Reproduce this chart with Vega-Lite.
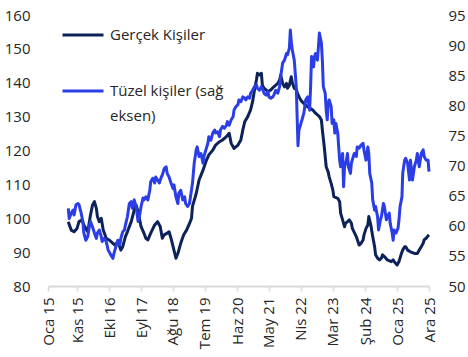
{
"$schema": "https://vega.github.io/schema/vega-lite/v6.json",
"width": 381,
"height": 271,
"padding": {"left": 4, "top": 8, "right": 5, "bottom": 5},
"config": {
  "view": {"stroke": null},
  "font": "Open Sans",
  "axis": {"labelFont": "Open Sans", "labelFontSize": 15, "labelColor": "#262626", "grid": false, "title": null, "labelFlush": false, "labelOverlap": false, "labelBound": false}
},
"datasets": {
"G": [
{"d":"2015-08-01","v":99.0},{"d":"2015-09-01","v":96.5},{"d":"2015-10-01","v":96.0},{"d":"2015-11-01","v":97.0},{"d":"2015-11-21","v":99.0},{"d":"2015-12-21","v":99.5},{"d":"2016-01-11","v":98.0},{"d":"2016-02-21","v":96.0},{"d":"2016-03-21","v":101.0},{"d":"2016-04-11","v":103.9},{"d":"2016-05-01","v":104.9},{"d":"2016-05-21","v":102.9},{"d":"2016-06-01","v":100.5},{"d":"2016-06-21","v":99.0},{"d":"2016-07-11","v":100.0},{"d":"2016-08-01","v":96.5},{"d":"2016-09-01","v":94.1},{"d":"2016-10-01","v":93.6},{"d":"2016-11-11","v":92.6},{"d":"2016-12-01","v":92.1},{"d":"2017-01-01","v":93.1},{"d":"2017-02-01","v":90.6},{"d":"2017-02-21","v":91.6},{"d":"2017-03-21","v":94.6},{"d":"2017-04-11","v":96.0},{"d":"2017-05-21","v":99.0},{"d":"2017-06-21","v":102.4},{"d":"2017-07-11","v":103.9},{"d":"2017-08-01","v":101.9},{"d":"2017-09-01","v":97.5},{"d":"2017-10-01","v":95.6},{"d":"2017-10-21","v":94.1},{"d":"2017-11-11","v":93.6},{"d":"2017-12-11","v":95.6},{"d":"2018-01-21","v":98.0},{"d":"2018-02-21","v":99.0},{"d":"2018-03-21","v":97.5},{"d":"2018-04-11","v":94.1},{"d":"2018-05-01","v":95.1},{"d":"2018-06-01","v":95.6},{"d":"2018-06-21","v":96.0},{"d":"2018-07-11","v":94.1},{"d":"2018-08-11","v":90.6},{"d":"2018-09-01","v":88.2},{"d":"2018-09-21","v":89.6},{"d":"2018-10-21","v":92.6},{"d":"2018-11-21","v":95.1},{"d":"2018-12-21","v":96.5},{"d":"2019-01-21","v":98.5},{"d":"2019-02-11","v":100.0},{"d":"2019-02-21","v":103.5},{"d":"2019-04-01","v":107.3},{"d":"2019-05-01","v":111.3},{"d":"2019-06-11","v":114.2},{"d":"2019-07-11","v":116.7},{"d":"2019-08-11","v":118.7},{"d":"2019-09-21","v":120.1},{"d":"2019-10-21","v":121.6},{"d":"2019-12-01","v":122.6},{"d":"2020-01-01","v":123.1},{"d":"2020-02-11","v":124.1},{"d":"2020-03-11","v":125.1},{"d":"2020-04-01","v":122.1},{"d":"2020-04-21","v":121.1},{"d":"2020-05-01","v":120.6},{"d":"2020-06-11","v":121.6},{"d":"2020-07-11","v":123.1},{"d":"2020-08-01","v":126.1},{"d":"2020-08-21","v":128.5},{"d":"2020-09-21","v":130.0},{"d":"2020-10-21","v":132.0},{"d":"2020-11-11","v":134.4},{"d":"2020-12-01","v":137.9},{"d":"2020-12-21","v":140.8},{"d":"2021-01-01","v":142.8},{"d":"2021-01-21","v":142.3},{"d":"2021-02-11","v":142.8},{"d":"2021-02-21","v":139.3},{"d":"2021-03-11","v":138.4},{"d":"2021-04-21","v":137.4},{"d":"2021-05-21","v":137.9},{"d":"2021-06-21","v":138.8},{"d":"2021-08-01","v":139.8},{"d":"2021-08-21","v":140.8},{"d":"2021-09-01","v":142.3},{"d":"2021-09-21","v":139.8},{"d":"2021-10-11","v":138.8},{"d":"2021-11-01","v":139.8},{"d":"2021-11-11","v":138.4},{"d":"2021-12-01","v":139.3},{"d":"2021-12-21","v":141.8},{"d":"2022-01-01","v":140.0},{"d":"2022-01-21","v":138.4},{"d":"2022-02-11","v":138.0},{"d":"2022-03-01","v":136.5},{"d":"2022-03-11","v":135.9},{"d":"2022-04-01","v":134.8},{"d":"2022-05-01","v":133.9},{"d":"2022-06-11","v":132.9},{"d":"2022-07-01","v":132.5},{"d":"2022-08-01","v":132.0},{"d":"2022-09-01","v":131.0},{"d":"2022-10-11","v":130.0},{"d":"2022-11-01","v":129.0},{"d":"2022-11-11","v":126.1},{"d":"2022-12-01","v":121.1},{"d":"2022-12-21","v":115.2},{"d":"2023-01-11","v":113.7},{"d":"2023-01-21","v":112.3},{"d":"2023-02-11","v":110.3},{"d":"2023-03-01","v":108.3},{"d":"2023-03-11","v":106.4},{"d":"2023-04-21","v":105.9},{"d":"2023-05-11","v":104.9},{"d":"2023-05-21","v":101.5},{"d":"2023-06-11","v":99.5},{"d":"2023-07-01","v":97.5},{"d":"2023-07-11","v":98.5},{"d":"2023-08-01","v":99.0},{"d":"2023-08-21","v":99.5},{"d":"2023-09-11","v":98.5},{"d":"2023-09-21","v":97.0},{"d":"2023-11-01","v":94.6},{"d":"2023-12-01","v":92.1},{"d":"2023-12-21","v":92.6},{"d":"2024-01-11","v":93.6},{"d":"2024-01-21","v":95.1},{"d":"2024-02-11","v":97.0},{"d":"2024-03-01","v":98.0},{"d":"2024-03-11","v":100.5},{"d":"2024-04-01","v":98.0},{"d":"2024-04-21","v":94.6},{"d":"2024-05-11","v":91.6},{"d":"2024-05-21","v":89.2},{"d":"2024-06-11","v":88.2},{"d":"2024-07-01","v":87.7},{"d":"2024-07-21","v":88.2},{"d":"2024-08-01","v":89.2},{"d":"2024-08-21","v":88.7},{"d":"2024-09-21","v":87.7},{"d":"2024-11-01","v":87.2},{"d":"2024-11-21","v":87.7},{"d":"2024-12-01","v":87.2},{"d":"2025-01-01","v":86.2},{"d":"2025-01-21","v":87.2},{"d":"2025-02-11","v":89.2},{"d":"2025-03-01","v":90.6},{"d":"2025-03-21","v":91.6},{"d":"2025-04-01","v":91.6},{"d":"2025-04-21","v":90.6},{"d":"2025-05-21","v":90.1},{"d":"2025-07-01","v":89.6},{"d":"2025-08-01","v":89.6},{"d":"2025-08-21","v":90.6},{"d":"2025-09-11","v":91.6},{"d":"2025-10-01","v":92.6},{"d":"2025-10-11","v":93.6},{"d":"2025-11-01","v":94.1},{"d":"2025-11-21","v":94.8},{"d":"2025-12-01","v":95.1}
],
"T": [
{"d":"2015-08-01","v":62.9},{"d":"2015-08-11","v":61.2},{"d":"2015-09-01","v":62.1},{"d":"2015-09-21","v":62.6},{"d":"2015-10-01","v":61.8},{"d":"2015-10-21","v":63.5},{"d":"2015-11-11","v":63.7},{"d":"2015-11-21","v":63.5},{"d":"2015-12-11","v":62.3},{"d":"2016-01-01","v":60.7},{"d":"2016-01-11","v":58.8},{"d":"2016-02-01","v":57.6},{"d":"2016-02-21","v":58.2},{"d":"2016-03-11","v":60.1},{"d":"2016-03-21","v":60.7},{"d":"2016-04-11","v":59.8},{"d":"2016-05-01","v":58.8},{"d":"2016-05-21","v":57.9},{"d":"2016-06-01","v":58.8},{"d":"2016-06-21","v":59.3},{"d":"2016-07-11","v":58.2},{"d":"2016-07-21","v":57.4},{"d":"2016-08-11","v":57.9},{"d":"2016-09-01","v":57.4},{"d":"2016-09-21","v":56.0},{"d":"2016-10-01","v":55.7},{"d":"2016-10-21","v":55.1},{"d":"2016-11-11","v":54.6},{"d":"2016-11-21","v":55.4},{"d":"2016-12-11","v":56.5},{"d":"2017-01-01","v":57.6},{"d":"2017-01-21","v":56.8},{"d":"2017-02-01","v":57.9},{"d":"2017-02-21","v":59.0},{"d":"2017-03-11","v":59.3},{"d":"2017-03-21","v":60.1},{"d":"2017-04-11","v":61.5},{"d":"2017-05-01","v":63.7},{"d":"2017-05-21","v":64.0},{"d":"2017-06-01","v":62.9},{"d":"2017-06-21","v":64.3},{"d":"2017-07-11","v":63.2},{"d":"2017-08-01","v":60.7},{"d":"2017-08-11","v":61.2},{"d":"2017-09-01","v":63.2},{"d":"2017-09-21","v":64.6},{"d":"2017-10-01","v":64.3},{"d":"2017-10-21","v":64.8},{"d":"2017-11-11","v":64.3},{"d":"2017-12-01","v":65.9},{"d":"2017-12-11","v":67.3},{"d":"2018-01-01","v":67.9},{"d":"2018-01-21","v":67.1},{"d":"2018-02-01","v":68.1},{"d":"2018-02-21","v":67.6},{"d":"2018-03-11","v":67.1},{"d":"2018-04-01","v":68.1},{"d":"2018-04-11","v":68.4},{"d":"2018-05-01","v":69.5},{"d":"2018-05-21","v":69.8},{"d":"2018-06-01","v":68.7},{"d":"2018-06-21","v":68.1},{"d":"2018-07-11","v":67.1},{"d":"2018-08-01","v":66.2},{"d":"2018-08-11","v":66.8},{"d":"2018-09-01","v":64.8},{"d":"2018-09-21","v":63.7},{"d":"2018-10-01","v":65.4},{"d":"2018-10-21","v":65.9},{"d":"2018-11-11","v":64.3},{"d":"2018-12-01","v":64.8},{"d":"2018-12-11","v":63.7},{"d":"2019-01-01","v":63.2},{"d":"2019-01-21","v":63.7},{"d":"2019-02-11","v":66.0},{"d":"2019-02-21","v":67.1},{"d":"2019-03-11","v":70.4},{"d":"2019-04-01","v":72.6},{"d":"2019-04-11","v":73.1},{"d":"2019-05-01","v":71.5},{"d":"2019-05-21","v":72.0},{"d":"2019-06-11","v":70.4},{"d":"2019-06-21","v":71.5},{"d":"2019-07-11","v":72.6},{"d":"2019-08-01","v":73.7},{"d":"2019-08-11","v":74.8},{"d":"2019-09-01","v":74.2},{"d":"2019-09-21","v":75.4},{"d":"2019-10-11","v":75.9},{"d":"2019-10-21","v":75.4},{"d":"2019-11-11","v":75.6},{"d":"2019-12-01","v":74.8},{"d":"2019-12-11","v":75.9},{"d":"2020-01-01","v":76.5},{"d":"2020-01-21","v":76.2},{"d":"2020-02-11","v":76.7},{"d":"2020-02-21","v":77.3},{"d":"2020-03-11","v":76.7},{"d":"2020-04-01","v":77.6},{"d":"2020-04-21","v":78.1},{"d":"2020-05-01","v":79.2},{"d":"2020-05-21","v":79.8},{"d":"2020-06-11","v":80.1},{"d":"2020-06-21","v":80.9},{"d":"2020-07-11","v":80.6},{"d":"2020-08-01","v":81.4},{"d":"2020-08-21","v":81.2},{"d":"2020-09-01","v":80.9},{"d":"2020-09-21","v":81.4},{"d":"2020-10-11","v":81.2},{"d":"2020-10-21","v":82.0},{"d":"2020-11-11","v":82.5},{"d":"2020-12-01","v":83.1},{"d":"2020-12-21","v":83.4},{"d":"2021-01-01","v":82.8},{"d":"2021-01-21","v":82.5},{"d":"2021-02-11","v":83.1},{"d":"2021-02-21","v":82.8},{"d":"2021-03-11","v":82.0},{"d":"2021-04-01","v":81.7},{"d":"2021-04-21","v":82.3},{"d":"2021-05-01","v":81.4},{"d":"2021-05-21","v":81.2},{"d":"2021-06-11","v":81.4},{"d":"2021-06-21","v":81.7},{"d":"2021-07-11","v":82.5},{"d":"2021-08-01","v":82.0},{"d":"2021-08-21","v":83.1},{"d":"2021-09-01","v":84.8},{"d":"2021-09-21","v":87.0},{"d":"2021-10-11","v":87.5},{"d":"2021-11-01","v":88.6},{"d":"2021-11-11","v":88.4},{"d":"2021-12-01","v":89.5},{"d":"2021-12-11","v":92.5},{"d":"2021-12-21","v":90.5},{"d":"2022-01-01","v":89.2},{"d":"2022-01-21","v":87.5},{"d":"2022-02-11","v":83.1},{"d":"2022-02-21","v":77.6},{"d":"2022-03-01","v":73.3},{"d":"2022-03-11","v":75.9},{"d":"2022-04-01","v":77.0},{"d":"2022-04-21","v":78.1},{"d":"2022-05-01","v":78.7},{"d":"2022-05-21","v":80.9},{"d":"2022-06-11","v":81.4},{"d":"2022-07-01","v":79.2},{"d":"2022-07-11","v":83.1},{"d":"2022-07-21","v":88.1},{"d":"2022-08-11","v":86.4},{"d":"2022-08-21","v":88.1},{"d":"2022-09-01","v":88.6},{"d":"2022-09-21","v":87.5},{"d":"2022-10-11","v":92.0},{"d":"2022-11-01","v":90.3},{"d":"2022-11-11","v":87.5},{"d":"2022-11-21","v":83.1},{"d":"2022-12-11","v":82.0},{"d":"2022-12-21","v":79.2},{"d":"2023-01-01","v":77.6},{"d":"2023-01-11","v":80.3},{"d":"2023-01-21","v":80.9},{"d":"2023-02-11","v":79.8},{"d":"2023-02-21","v":77.0},{"d":"2023-03-11","v":77.6},{"d":"2023-03-21","v":75.4},{"d":"2023-04-01","v":77.0},{"d":"2023-04-21","v":75.4},{"d":"2023-05-01","v":73.1},{"d":"2023-05-11","v":70.9},{"d":"2023-05-21","v":69.8},{"d":"2023-06-11","v":72.0},{"d":"2023-06-21","v":66.5},{"d":"2023-07-01","v":69.8},{"d":"2023-07-21","v":70.9},{"d":"2023-08-01","v":72.0},{"d":"2023-08-11","v":69.8},{"d":"2023-09-01","v":68.7},{"d":"2023-09-11","v":70.4},{"d":"2023-10-01","v":71.5},{"d":"2023-10-11","v":72.0},{"d":"2023-11-01","v":71.5},{"d":"2023-11-11","v":73.1},{"d":"2023-12-01","v":72.9},{"d":"2023-12-21","v":73.4},{"d":"2024-01-11","v":73.7},{"d":"2024-01-21","v":72.5},{"d":"2024-02-11","v":70.9},{"d":"2024-03-01","v":73.1},{"d":"2024-03-11","v":72.0},{"d":"2024-03-21","v":68.7},{"d":"2024-04-11","v":67.1},{"d":"2024-04-21","v":64.3},{"d":"2024-05-11","v":62.6},{"d":"2024-05-21","v":63.2},{"d":"2024-06-11","v":61.5},{"d":"2024-06-21","v":59.3},{"d":"2024-07-11","v":61.0},{"d":"2024-07-21","v":61.5},{"d":"2024-08-11","v":63.7},{"d":"2024-08-21","v":63.2},{"d":"2024-09-11","v":61.0},{"d":"2024-09-21","v":61.5},{"d":"2024-10-11","v":62.1},{"d":"2024-10-21","v":60.4},{"d":"2024-11-11","v":58.8},{"d":"2024-11-21","v":57.6},{"d":"2024-12-01","v":59.3},{"d":"2024-12-21","v":58.8},{"d":"2025-01-11","v":59.6},{"d":"2025-01-21","v":61.0},{"d":"2025-02-01","v":63.2},{"d":"2025-02-21","v":64.8},{"d":"2025-03-01","v":68.7},{"d":"2025-03-21","v":70.9},{"d":"2025-04-01","v":71.2},{"d":"2025-04-21","v":70.4},{"d":"2025-05-11","v":67.6},{"d":"2025-05-21","v":70.9},{"d":"2025-06-11","v":67.6},{"d":"2025-07-01","v":69.8},{"d":"2025-07-21","v":70.9},{"d":"2025-08-01","v":72.0},{"d":"2025-08-21","v":69.8},{"d":"2025-09-11","v":72.0},{"d":"2025-10-01","v":72.6},{"d":"2025-10-11","v":71.5},{"d":"2025-11-01","v":70.9},{"d":"2025-11-21","v":70.9},{"d":"2025-12-01","v":69.0}
]
},
"encoding": {
  "x": {
    "field": "d", "type": "temporal",
    "scale": {"type": "utc", "domain": [{"year": 2015, "month": 1, "date": 1, "utc": true}, {"year": 2025, "month": 12, "date": 1, "utc": true}]},
    "axis": {
      "values": [
        {"year": 2015, "month": 1, "date": 1, "utc": true},
        {"year": 2015, "month": 11, "date": 1, "utc": true},
        {"year": 2016, "month": 10, "date": 1, "utc": true},
        {"year": 2017, "month": 9, "date": 1, "utc": true},
        {"year": 2018, "month": 8, "date": 1, "utc": true},
        {"year": 2019, "month": 7, "date": 1, "utc": true},
        {"year": 2020, "month": 6, "date": 1, "utc": true},
        {"year": 2021, "month": 5, "date": 1, "utc": true},
        {"year": 2022, "month": 4, "date": 1, "utc": true},
        {"year": 2023, "month": 3, "date": 1, "utc": true},
        {"year": 2024, "month": 2, "date": 1, "utc": true},
        {"year": 2025, "month": 1, "date": 1, "utc": true},
        {"year": 2025, "month": 12, "date": 1, "utc": true}
      ],
      "labelExpr": "['Oca','Şub','Mar','Nis','May','Haz','Tem','Ağu','Eyl','Eki','Kas','Ara'][utcmonth(datum.value)] + ' ' + utcFormat(datum.value, '%y')",
      "labelAngle": -90,
      "labelPadding": 6,
      "tickSize": 5,
      "tickWidth": 1.5,
      "tickColor": "#d9d9d9",
      "domainColor": "#d9d9d9",
      "domainWidth": 2
    }
  },
  "color": {
    "field": "s", "type": "nominal",
    "scale": {"domain": ["Gerçek Kişiler", "Tüzel kişiler (sağ eksen)"], "range": ["#0c2259", "#2a3de6"]},
    "legend": {
      "orient": "none", "legendX": 13, "legendY": -2, "title": null,
      "symbolType": "stroke", "symbolSize": 1681, "symbolStrokeWidth": 3,
      "labelFontSize": 15, "labelFont": "Open Sans", "labelColor": "#262626", "labelOffset": 5, "labelLimit": 300,
      "rowPadding": 26,
      "labelExpr": "datum.label == 'Tüzel kişiler (sağ eksen)' ? ['Tüzel kişiler (sağ', 'eksen)'] : datum.label",
      "encode": {"labels": {"update": {"lineHeight": {"value": 25}}}}
    }
  }
},
"layer": [
  {
    "data": {"name": "G"},
    "transform": [{"calculate": "'Gerçek Kişiler'", "as": "s"}],
    "mark": {"type": "line", "strokeWidth": 3, "strokeJoin": "round"},
    "encoding": {
      "y": {"field": "v", "type": "quantitative",
        "scale": {"domain": [80, 160], "nice": false, "zero": false},
        "axis": {"orient": "left", "values": [80, 90, 100, 110, 120, 130, 140, 150, 160], "domain": false, "ticks": false, "tickSize": 0, "labelPadding": 18}}
    }
  },
  {
    "data": {"name": "T"},
    "transform": [{"calculate": "'Tüzel kişiler (sağ eksen)'", "as": "s"}],
    "mark": {"type": "line", "strokeWidth": 3, "strokeJoin": "round"},
    "encoding": {
      "y": {"field": "v", "type": "quantitative",
        "scale": {"domain": [50, 95], "nice": false, "zero": false},
        "axis": {"orient": "right", "values": [50, 55, 60, 65, 70, 75, 80, 85, 90, 95], "domain": false, "ticks": false, "tickSize": 0, "labelPadding": 19}}
    }
  }
],
"resolve": {"scale": {"y": "independent"}}
}
